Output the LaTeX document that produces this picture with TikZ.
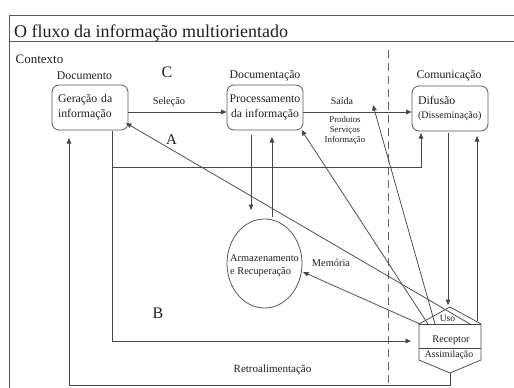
\documentclass[tikz,border=0pt]{standalone}
\usepackage{fontspec}
\setmainfont{Liberation Serif}
\usetikzlibrary{arrows.meta,shapes.geometric,calc}
\begin{document}
\begin{tikzpicture}[x=1pt,y=-1pt,
  every node/.style={text=black!88},
  frame/.style={draw=black!65,line width=0.9pt},
  ln/.style={draw=black!72,line width=0.75pt},
  arr/.style={ln,-{Triangle[length=5.5pt,width=4.6pt]}},
  box/.style={draw=black!65,line width=0.8pt,rounded corners=7pt,minimum width=76pt,minimum height=45pt,inner sep=0pt},
  fa/.style={font=\fontsize{18}{21}\selectfont},
  fb/.style={font=\fontsize{13}{15}\selectfont},
  fc/.style={font=\fontsize{11.8}{15}\selectfont},
  fd/.style={font=\fontsize{10.4}{13}\selectfont},
  fe/.style={font=\fontsize{8.8}{10}\selectfont},
  fbig/.style={font=\fontsize{16}{18}\selectfont},
  lab/.style={inner sep=0pt}
]
\useasboundingbox (0,0) rectangle (514,388);
% frame
\draw[frame] (514,15) -- (9,15) -- (9,388);
\draw[frame] (9,41.5) -- (514,41.5);
\node[fa,lab,anchor=base west] (title) at (14,37.5) {O fluxo da informação multiorientado};
\node[fb,lab] (ctx) at (39.5,59.5) {Contexto};
% headings
\node[fc,lab] (hdoc) at (84.5,76) {Documento};
\node[fbig,lab] (lc) at (167,72) {C};
\node[fc,lab] (hdocu) at (265,76) {Documentação};
\node[fc,lab] (hcom) at (449,75.5) {Comunicação};
% boxes
\node[box,fc,text width=64pt,align=left] (gen) at (90,107.5) {Geração da\\informação};
\node[box,fc,align=center,font=\fontsize{11.8}{14.3}\selectfont] (proc) at (265,107.5) {Processamento\\da informação};
\node[box,text width=64pt,align=left,font=\fontsize{11.8}{13.4}\selectfont] (dif) at (450,108.5) {Difusão\\{\fontsize{10.1}{12}\selectfont(Disseminação)}};
% ellipse
\node[draw=black!65,line width=0.8pt,ellipse,minimum width=75pt,minimum height=89pt,inner sep=0pt] (mem) at (264.5,263.5) {};
\node[fd,lab,align=left,font=\fontsize{10.4}{13}\selectfont] (memt) at (264.5,265.5) {Armazenamento\\e Recuperação};
% receptor hexagon
\coordinate (rtop) at (450,307);
\coordinate (rul) at (419,324);
\coordinate (rur) at (481,324);
\coordinate (rlr) at (481,360);
\coordinate (rbot) at (450,373);
\coordinate (rll) at (419,360);
\draw[ln,fill=white] (rul) -- (rtop) -- (rur) -- (rlr) -- (rbot) -- (rll) -- cycle;
\draw[ln] (rul) -- (rur);
\draw[ln] (419,348.5) -- (481,348.5);
\node[lab,font=\fontsize{9.5}{11}\selectfont] (uso) at (447.5,318.5) {Uso};
\node[lab,font=\fontsize{10.3}{12}\selectfont] (rec) at (451,340) {Receptor};
\node[lab,font=\fontsize{9.8}{12}\selectfont] (assim) at (449,355.5) {Assimilação};
% labels
\node[lab,font=\fontsize{10.4}{12}\selectfont] (lsel) at (169,101.5) {Seleção};
\node[lab,font=\fontsize{10}{12}\selectfont] (lsai) at (342,101.5) {Saída};
\node[lab,fe,align=center] (lprod) at (345,130) {Produtos\\Serviços\\Informação};
\node[lab,font=\fontsize{15}{17}\selectfont] (la) at (171.5,140) {A};
\node[lab,fbig] (lb) at (158,313) {B};
\node[lab,fd] (lmem) at (331,262.5) {Memória};
\node[lab,font=\fontsize{11}{13}\selectfont] (lretro) at (272.5,369.5) {Retroalimentação};
% dashed divider
\coordinate (dtop) at (388,50);
\coordinate (dbot) at (388,384);
\draw[draw=black!60,line width=0.8pt,dash pattern=on 8pt off 5pt] (dtop) -- (dbot);
% connector end points
\coordinate (genB) at (112,130.5);
\coordinate (difB) at (421,133);
\coordinate (recIn) at (411,341);
\coordinate (genFb) at (69,138);
\coordinate (genC) at (126,123);
\coordinate (procC) at (301.5,130);
\coordinate (saiP) at (373,105);
\coordinate (memR) at (303,272);
\coordinate (rA) at (470,324);
\coordinate (rP) at (428,324);
\coordinate (rS) at (435,324);
\coordinate (rM) at (420,324);
\coordinate (pDownS) at (251,135);
\coordinate (pDownE) at (251,210);
\coordinate (pUpS) at (272,217);
\coordinate (pUpE) at (272,137);
\coordinate (dDownS) at (448,133);
\coordinate (dDownE) at (448,305);
\coordinate (dUpS) at (477,321);
\coordinate (dUpE) at (477,136);
% connectors
\draw[arr] ([yshift=-4.5pt]gen.east) -- ([yshift=-4.5pt]proc.west);
\draw[arr] ([yshift=-4.5pt]proc.east) -- ([yshift=-3.5pt]dif.west);
\draw[arr] (genB) |- ($(difB)+(0,34)$) -- (difB);
\draw[arr] (genB) |- (recIn);
\draw[arr] (rbot) -- ++(0,12) -| (genFb);
\draw[arr] (pDownS) -- (pDownE);
\draw[arr] (pUpS) -- (pUpE);
\draw[arr] (dDownS) -- (dDownE);
\draw[arr] (dUpS) -- (dUpE);
\draw[arr] (rA) -- (genC);
\draw[arr] (rP) -- (procC);
\draw[arr] (rS) -- (saiP);
\draw[arr] (rM) -- (memR);
\end{tikzpicture}
\end{document}
